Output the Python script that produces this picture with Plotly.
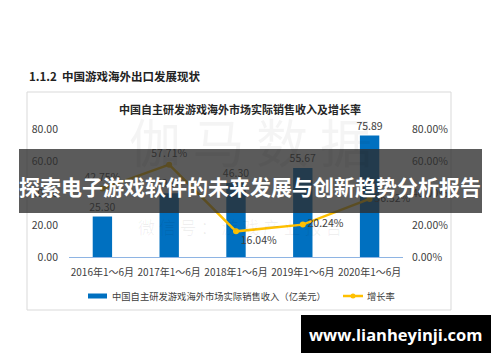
import plotly.graph_objects as go

categories = ["2016年1～6月", "2017年1～6月", "2018年1～6月", "2019年1～6月", "2020年1～6月"]
revenue = [25.30, 39.90, 46.30, 55.67, 75.89]
growth = [0.4275, 0.5771, 0.1604, 0.2024, 0.3632]
growth_pos = ["top center", "top center", "bottom right", "middle right", "middle right"]
left_ticks = [0, 20, 40, 60, 80]
right_ticks = [0, 0.2, 0.4, 0.6, 0.8]
bar_name = "中国自主研发游戏海外市场实际销售收入（亿美元）"
line_name = "增长率"

# page body has an 8px margin, so the figure is 492x354 placed at (8, 8)
OFF = 8
W, H = 500 - OFF, 362 - OFF
FONT = "Noto Sans CJK SC, Noto Sans, sans-serif"
TXT = "#404040"
BLUE = "#0070C0"
GOLD = "#FFC000"

def px(x):
    return (x - OFF) / W

def py(y):
    return 1 - (y - OFF) / H

fig = go.Figure()
fig.add_trace(go.Bar(
    x=categories, y=revenue, name=bar_name,
    marker_color=BLUE, width=0.29,
    text=[f"{v:.2f}" for v in revenue], textposition="outside", constraintext="none",
    textfont=dict(size=10.5, color=TXT, family=FONT), cliponaxis=False,
))
fig.add_trace(go.Scatter(
    x=categories, y=growth, name=line_name, yaxis="y2", mode="lines+markers+text",
    line=dict(color=GOLD, width=2.5), marker=dict(size=6, color=GOLD),
    texttemplate="%{y:.2%}", textposition=growth_pos,
    textfont=dict(size=10.5, color=TXT, family=FONT), cliponaxis=False,
))

fig.update_layout(
    template="none",
    width=W, height=H, margin=dict(l=0, r=0, t=0, b=0, pad=0, autoexpand=False),
    paper_bgcolor="white", plot_bgcolor="rgba(0,0,0,0)",
    font=dict(family=FONT, color=TXT, size=10.5),
    bargap=0.7, showlegend=False,
    xaxis=dict(domain=[px(69), px(403)], showgrid=False, showline=True, linecolor="#8EB4E3",
               linewidth=1.2, ticks="", tickfont=dict(size=10, color=TXT), ticklabelstandoff=6,
               automargin=False, zeroline=False),
    yaxis=dict(domain=[py(257), py(129)], range=[0, 80], tickvals=left_ticks,
               tickformat=".2f", showgrid=False, zeroline=False, showline=False, ticks="",
               tickfont=dict(size=10.5, color=TXT), ticklabelstandoff=10, automargin=False),
    yaxis2=dict(overlaying="y", side="right", range=[0, 0.8], tickvals=right_ticks,
                tickformat=".2%", showgrid=False, zeroline=False, showline=False, ticks="",
                tickfont=dict(size=10.5, color=TXT), ticklabelstandoff=8, automargin=False),
)

shapes = [
    # chart frame
    dict(type="rect", xref="paper", yref="paper", x0=px(27), x1=px(451), y0=py(310), y1=py(92),
         line=dict(color="#D9D9D9", width=1), fillcolor="rgba(0,0,0,0)", layer="below"),
    # legend swatches
    dict(type="rect", xref="paper", yref="paper", x0=px(88), x1=px(107), y0=py(298.5), y1=py(293.5),
         line=dict(width=0), fillcolor=BLUE),
    dict(type="line", xref="paper", yref="paper", x0=px(343), x1=px(363), y0=py(296), y1=py(296),
         line=dict(color=GOLD, width=2.5)),
    dict(type="circle", xref="paper", yref="paper", x0=px(350.5), x1=px(355.5), y0=py(298.5), y1=py(293.5),
         line=dict(width=0), fillcolor=GOLD),
    # banner
    dict(type="rect", xref="paper", yref="paper", x0=px(19), x1=px(482), y0=py(213), y1=py(149),
         line=dict(width=0), fillcolor="rgba(45,45,45,0.78)", layer="above"),
    # url box
    dict(type="rect", xref="paper", yref="paper", x0=px(301), x1=px(491), y0=py(353), y1=py(315),
         line=dict(width=0), fillcolor="black", layer="above"),
]
fig.update_layout(shapes=shapes)

ann = [
    dict(text="<b>1.1.2  中国游戏海外出口发展现状</b>", x=px(27), y=py(76), xanchor="left",
         yanchor="middle", font=dict(size=11.5, color="#222222")),
    dict(text="<b>中国自主研发游戏海外市场实际销售收入及增长率</b>", x=px(240), y=py(109),
         xanchor="center", yanchor="middle", font=dict(size=11, color="#262626")),
    dict(text=bar_name, x=px(110), y=py(296), xanchor="left", yanchor="middle",
         font=dict(size=9.3, color=TXT)),
    dict(text=line_name, x=px(365), y=py(296), xanchor="left", yanchor="middle",
         font=dict(size=9.3, color=TXT)),
    dict(text="伽 马 数 据", x=px(250), y=py(140), xanchor="center", yanchor="middle",
         font=dict(size=52, color="rgba(0,0,0,0.045)")),
    dict(text="微 信 号 ： 游 戏 产 业 报 告", x=px(240), y=py(226), xanchor="center", yanchor="middle",
         font=dict(size=17, color="rgba(0,0,0,0.06)")),
    dict(text="<b>探索电子游戏软件的未来发展与创新趋势分析报告</b>", x=px(250), y=py(186),
         xanchor="center", yanchor="middle", font=dict(size=21, color="white")),
    dict(text="<b>www.lianheyinji.com</b>", x=px(396), y=py(334), xanchor="center",
         yanchor="middle", font=dict(size=16.5, color="white", family="Open Sans, DejaVu Sans")),
]
for a in ann:
    a.update(xref="paper", yref="paper", showarrow=False)
fig.update_layout(annotations=ann)

fig.write_html("out.html")
